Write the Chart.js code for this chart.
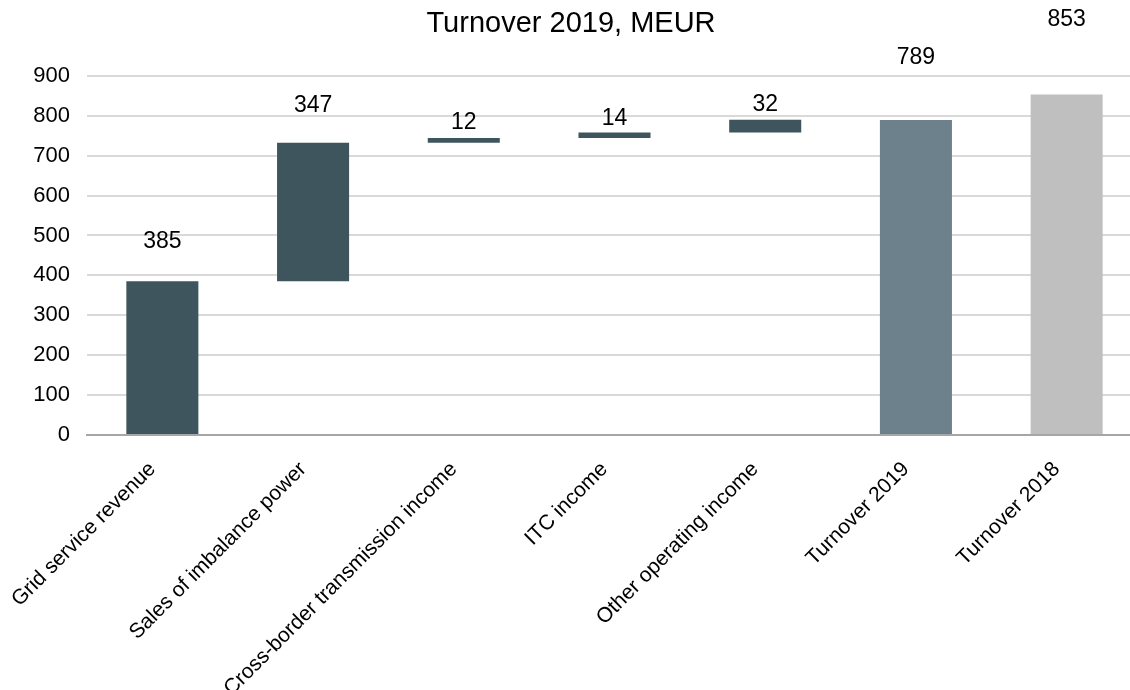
<!DOCTYPE html>
<html>
<head>
<meta charset="utf-8">
<script src="https://cdn.jsdelivr.net/npm/chart.js@4/dist/chart.umd.min.js"></script>
<style>
  html, body { margin: 0; padding: 0; background: #fff; overflow: hidden; }
  #wrap { position: relative; width: 1142px; height: 690px; }
</style>
</head>
<body>
<div id="wrap"><canvas id="waterfall"></canvas></div>
<script>
"use strict";

// Categories and values (MEUR)
const CATEGORIES = [
  "Grid service revenue",
  "Sales of imbalance power",
  "Cross-border transmission income",
  "ITC income",
  "Other operating income",
  "Turnover 2019",
  "Turnover 2018"
];
const STEP_VALUES  = [385, 347, 12, 14, 32];   // waterfall increments
const TOTAL_VALUES = [789, 853];               // full bars
const Y_TICKS = [0, 100, 200, 300, 400, 500, 600, 700, 800, 900];

// Colours
const COLORS = {
  step:  "#3f555e",
  t2019: "#6c818c",
  t2018: "#bfbfbf",
  grid:  "#d9d9d9",
  axis:  "#a6a6a6",
  text:  "#000000"
};

// pixel gap between bar top and its value label (style only)
const LABEL_GAP = [40, 37, 15, 14, 15, 62, 75];

const FONT = "'Liberation Sans', Arial, sans-serif";

// build floating bars from the increments, then the totals
function buildBars() {
  const bars = [];
  let run = 0;
  STEP_VALUES.forEach(v => {
    bars.push([run, run + v]);
    run += v;
  });
  TOTAL_VALUES.forEach(v => bars.push([0, v]));
  return bars;
}

const labelValues = STEP_VALUES.concat(TOTAL_VALUES);
const barColors = STEP_VALUES.map(() => COLORS.step).concat([COLORS.t2019, COLORS.t2018]);

// value labels above each bar
const valueLabels = {
  id: "valueLabels",
  afterDatasetsDraw(chart) {
    const ctx  = chart.ctx;
    const meta = chart.getDatasetMeta(0);
    ctx.save();
    ctx.font = "23px " + FONT;
    ctx.fillStyle = COLORS.text;
    ctx.textAlign = "center";
    ctx.textBaseline = "middle";
    meta.data.forEach((bar, i) => {
      const top = Math.min(bar.y, bar.base);
      ctx.fillText(String(labelValues[i]), bar.x, top - LABEL_GAP[i]);
    });
    ctx.restore();
  }
};

new Chart(document.getElementById("waterfall").getContext("2d"), {
  type: "bar",
  data: {
    labels: CATEGORIES,
    datasets: [{
      data: buildBars(),
      backgroundColor: barColors,
      borderWidth: 0,
      borderSkipped: false,
      categoryPercentage: 1,
      barPercentage: 0.478
    }]
  },
  plugins: [valueLabels],
  options: {
    responsive: true,
    maintainAspectRatio: false,
    animation: false,
    layout: { padding: 0 },
    plugins: {
      legend: { display: false },
      tooltip: { enabled: false },
      title: {
        display: true,
        text: "Turnover 2019, MEUR",
        color: COLORS.text,
        font: { family: FONT, size: 29, weight: "normal" },
        padding: { top: 7, bottom: 34 }
      }
    },
    scales: {
      x: {
        grid: { display: false, drawTicks: false },
        border: { display: true, color: COLORS.axis, width: 2 },
        ticks: {
          color: COLORS.text,
          font: { family: FONT, size: 21 },
          minRotation: 45,
          maxRotation: 45,
          padding: 22,
          labelOffset: -10,
          autoSkip: false
        },
        afterFit: s => {
          s.height = 255;
          s.paddingLeft = 0;
          s.paddingRight = 0;
        }
      },
      y: {
        min: 0,
        max: 900,
        afterBuildTicks: s => { s.ticks = Y_TICKS.map(v => ({ value: v })); },
        grid: { color: COLORS.grid, lineWidth: 2, drawTicks: false },
        border: { display: false },
        ticks: {
          color: COLORS.text,
          font: { family: FONT, size: 22 },
          padding: 17
        },
        afterFit: s => { s.width = 87; }
      }
    }
  }
});
</script>
</body>
</html>
